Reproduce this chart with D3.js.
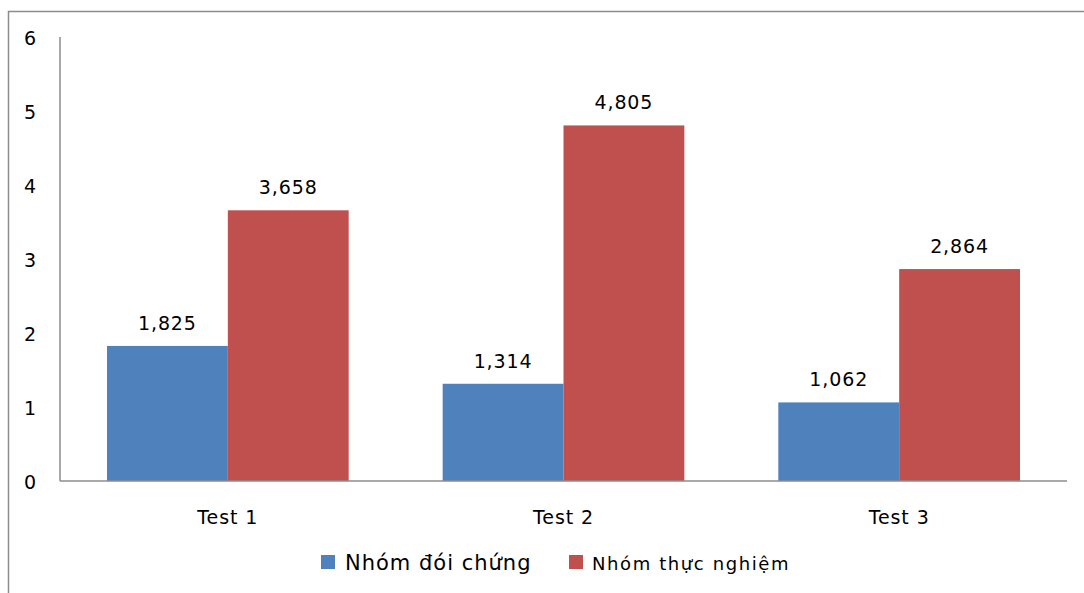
<!DOCTYPE html>
<html><head><meta charset="utf-8">
<script src="https://cdn.jsdelivr.net/npm/d3@7"></script>
<style>
html,body{margin:0;padding:0;background:#fff;}
svg{display:block;font-family:"DejaVu Sans",sans-serif;}
</style></head><body>
<svg id="c" width="1084" height="593"></svg>
<script>
const categories = ["Test 1", "Test 2", "Test 3"];
const seriesNames = ["Nhóm đói chứng", "Nhóm thực nghiệm"];
const controlValues = [1.825, 1.314, 1.062];
const experimentValues = [3.658, 4.805, 2.864];
const yTicks = [0, 1, 2, 3, 4, 5, 6];
const colors = ["#4F81BD", "#C0504D"];

const svg = d3.select("#c");
// outer border
svg.append("rect").attr("x", 8.5).attr("y", 11.5).attr("width", 1090).attr("height", 600)
  .attr("fill", "none").attr("stroke", "#8c8c8c").attr("stroke-width", 1.5);

const pLeft = 60, pRight = 1067, pTop = 37, pBottom = 481;
const x = d3.scaleBand().domain(categories).range([pLeft, pRight]).paddingInner(0.28).paddingOuter(0.14);
const x1 = d3.scaleBand().domain([0, 1]).range([0, x.bandwidth()]);
const y = d3.scaleLinear().domain([0, 6]).range([pBottom, pTop]);

const data = categories.map((c, i) => ({c, v: [controlValues[i], experimentValues[i]]}));

const g = svg.append("g");
data.forEach(d => {
  d.v.forEach((v, s) => {
    g.append("rect").attr("x", x(d.c) + x1(s)).attr("y", y(v))
      .attr("width", x1.bandwidth()).attr("height", y(0) - y(v)).attr("fill", colors[s]);
    g.append("text").attr("x", x(d.c) + x1(s) + x1.bandwidth() / 2).attr("y", y(v) - 16)
      .attr("text-anchor", "middle").attr("font-size", 19).attr("letter-spacing", 0.9).attr("fill", "#000")
      .text(d3.format(".3f")(v).replace(".", ","));
  });
});

// axes
svg.append("line").attr("x1", pLeft).attr("x2", pLeft).attr("y1", pTop).attr("y2", pBottom)
  .attr("stroke", "#8c8c8c").attr("stroke-width", 1.5);
svg.append("line").attr("x1", pLeft).attr("x2", pRight).attr("y1", pBottom).attr("y2", pBottom)
  .attr("stroke", "#8c8c8c").attr("stroke-width", 1.5);

yTicks.forEach(t => {
  svg.append("text").attr("x", 30).attr("y", y(t) + 2).attr("dominant-baseline", "middle")
    .attr("text-anchor", "middle").attr("font-size", 19).attr("fill", "#000").text(t);
});
categories.forEach(c => {
  svg.append("text").attr("x", x(c) + x.bandwidth() / 2).attr("y", 524)
    .attr("text-anchor", "middle").attr("font-size", 19).attr("letter-spacing", 0.9).attr("fill", "#000").text(c);
});

// legend
const leg = [
  {sx: 321, tx: 345, size: 21, ls: 1.0},
  {sx: 569, tx: 592, size: 18, ls: 1.6}
];
seriesNames.forEach((n, i) => {
  svg.append("rect").attr("x", leg[i].sx).attr("y", 555).attr("width", 14).attr("height", 14).attr("fill", colors[i]);
  svg.append("text").attr("x", leg[i].tx).attr("y", 570).attr("font-size", leg[i].size)
    .attr("letter-spacing", leg[i].ls).attr("fill", "#000").text(n);
});
</script></body></html>
